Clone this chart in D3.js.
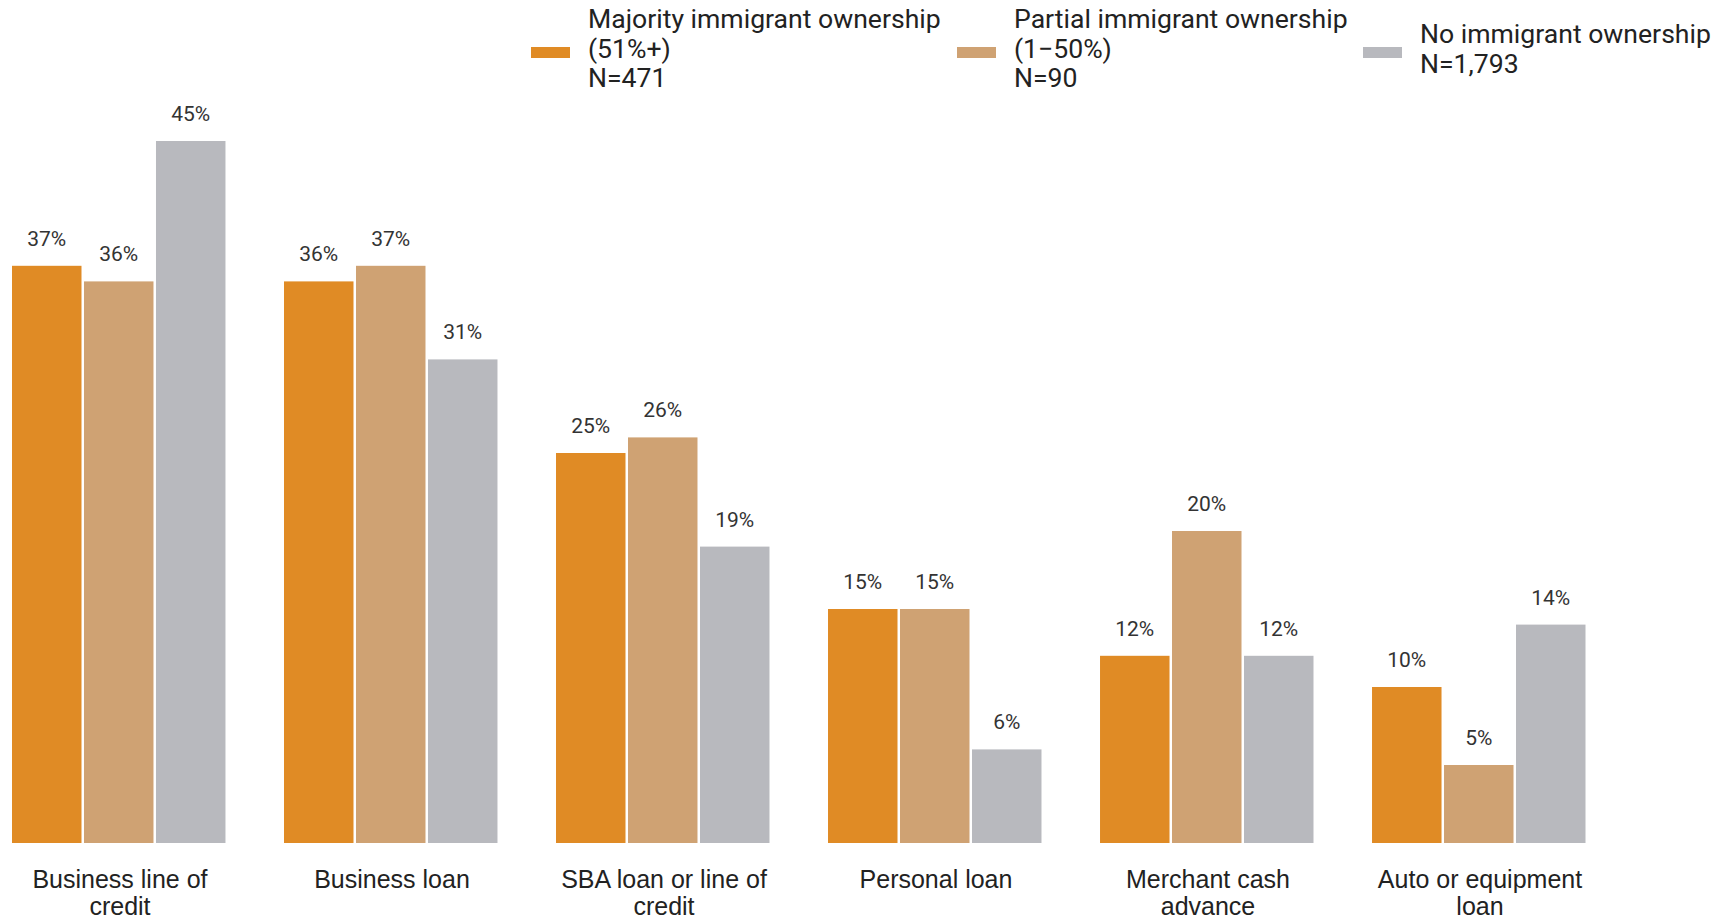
<!DOCTYPE html>
<html>
<head>
<meta charset="utf-8">
<script src="https://cdn.jsdelivr.net/npm/d3@7"></script>
<style>
  body { margin: 0; background: #fff; }
  svg { display: block; font-family: Roboto, "Noto Sans", sans-serif; }
</style>
</head>
<body>
<svg id="chart" width="1724" height="921"></svg>
<script>
// categories along the x axis (label lines)
const categories = [
  ["Business line of", "credit"],
  ["Business loan"],
  ["SBA loan or line of", "credit"],
  ["Personal loan"],
  ["Merchant cash", "advance"],
  ["Auto or equipment", "loan"]
];
const seriesNames = ["Majority", "Partial", "None"];
const legendLines = [
  ["Majority immigrant ownership", "(51%+)", "N=471"],
  ["Partial immigrant ownership", "(1\u221250%)", "N=90"],
  ["No immigrant ownership", "N=1,793"]
];
const majority = [37, 36, 25, 15, 12, 10];
const partial  = [36, 37, 26, 15, 20, 5];
const noneVals = [45, 31, 19, 6, 12, 14];
const colors = ["#E08B25", "#CFA273", "#B8B9BE"];

const svg = d3.select("#chart"),
  width = +svg.attr("width"),
  height = +svg.attr("height");

const catKeys = categories.map(c => c.join(" "));
const series = [majority, partial, noneVals];

const x0 = d3.scaleBand().domain(catKeys).range([12, 1588]).paddingInner(0.206);
const x1 = d3.scaleBand().domain(seriesNames).range([0, x0.bandwidth()]);
const y = d3.scaleLinear().domain([0, 45]).range([843, 141]);

const groups = svg.append("g").selectAll("g")
  .data(catKeys)
  .join("g")
  .attr("transform", d => `translate(${x0(d)},0)`);

groups.each(function(cat, i) {
  const g = d3.select(this);
  seriesNames.forEach((s, j) => {
    const v = series[j][i];
    g.append("rect")
      .attr("x", x1(s))
      .attr("y", y(v))
      .attr("width", x1.bandwidth() - 2.5)
      .attr("height", y(0) - y(v))
      .attr("fill", colors[j]);
    g.append("text")
      .attr("x", x1(s) + (x1.bandwidth() - 2.5) / 2)
      .attr("y", y(v) - 20)
      .attr("text-anchor", "middle")
      .attr("font-size", 21)
      .attr("fill", "#333")
      .text(v + "%");
  });
  // category label
  const t = g.append("text")
    .attr("text-anchor", "middle")
    .attr("font-family", "'Liberation Sans', Arial, sans-serif")
    .attr("font-size", 25)
    .attr("fill", "#222");
  categories[i].forEach((line, k) => {
    t.append("tspan")
      .attr("x", x0.bandwidth() / 2)
      .attr("y", 888 + k * 26.5)
      .text(line);
  });
});

// legend
const legendX = [531, 957, 1363];
const legend = svg.append("g");
legendLines.forEach((lines, i) => {
  legend.append("rect")
    .attr("x", legendX[i]).attr("y", 47)
    .attr("width", 39).attr("height", 11)
    .attr("fill", colors[i]);
  const top = lines.length === 3 ? 28 : 43;
  const t = legend.append("text")
    .attr("font-size", 26.6)
    .attr("fill", "#222");
  lines.forEach((line, k) => {
    t.append("tspan")
      .attr("x", legendX[i] + 57)
      .attr("y", top + k * 29.5)
      .text(line);
  });
});
</script>
</body>
</html>
